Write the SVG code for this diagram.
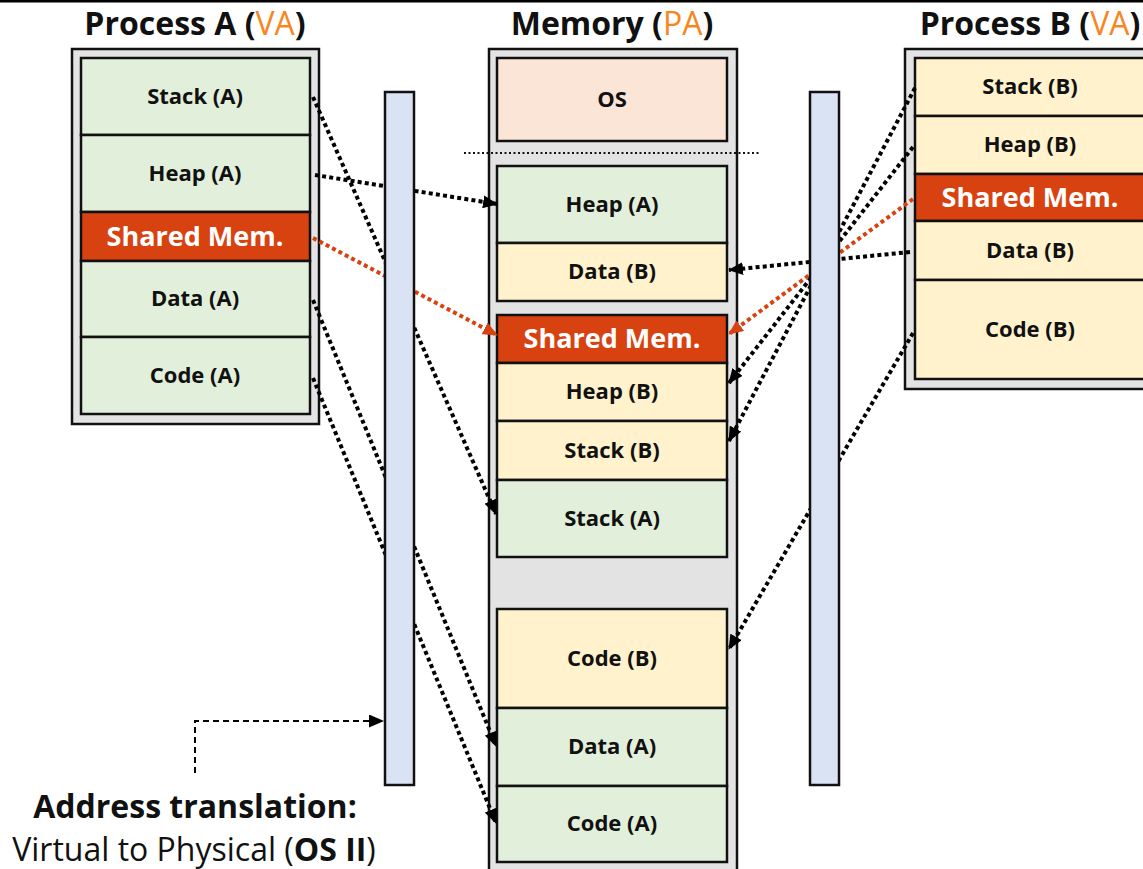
<svg xmlns="http://www.w3.org/2000/svg" width="1143" height="869" viewBox="0 0 1143 869">
  <style>
    .frame { fill: #E3E3E3; stroke: #111; stroke-width: 2.5; }
    .seg { stroke: #111; stroke-width: 2.5; }
    .green { fill: #E2EFDA; }
    .yellow { fill: #FFF2CC; }
    .peach { fill: #FBE5D6; }
    .shared { fill: #D84210; }
    .bar { fill: #DAE3F3; stroke: #111; stroke-width: 2.5; }
    .lbl { font-family: "Open Sans", "Liberation Sans", sans-serif; font-weight: bold; font-size: 22px; fill: #111; text-anchor: middle; }
    .slbl { font-family: "Open Sans", "Liberation Sans", sans-serif; font-weight: bold; font-size: 27px; fill: #fff; text-anchor: middle; }
    .title { font-family: "Open Sans", "Liberation Sans", sans-serif; font-weight: bold; font-size: 32px; fill: #111; text-anchor: middle; }
    .va { fill: #F7861F; font-weight: normal; }
    .dot { fill: none; stroke: #000; stroke-width: 4; stroke-dasharray: 4 3.2; }
    .dot.or { stroke: #D84210; }
    .note { font-family: "Open Sans", "Liberation Sans", sans-serif; font-size: 32px; fill: #111; text-anchor: middle; }
  </style>
  <defs>
    <marker id="ah" markerUnits="userSpaceOnUse" markerWidth="15" markerHeight="13" refX="14" refY="6.5" orient="auto">
      <path d="M0,0 L15,6.5 L0,13 z" fill="#000"/>
    </marker>
    <marker id="ahOr" markerUnits="userSpaceOnUse" markerWidth="15" markerHeight="13" refX="14" refY="6.5" orient="auto">
      <path d="M0,0 L15,6.5 L0,13 z" fill="#D84210"/>
    </marker>
  </defs>

  <rect width="1143" height="869" fill="#fff"/>
  <line x1="0" y1="1" x2="1143" y2="1" stroke="#000" stroke-width="3"/>

  <!-- Titles -->
  <text class="title" x="195" y="35">Process A (<tspan class="va">VA</tspan>)</text>
  <text class="title" x="612" y="35">Memory (<tspan class="va">PA</tspan>)</text>
  <text class="title" x="1030" y="35">Process B (<tspan class="va">VA</tspan>)</text>

  <!-- Process A virtual address space -->
  <g id="process-a">
    <rect class="frame" x="72" y="49" width="247" height="375"/>
    <rect class="seg green" x="81" y="58" width="229" height="77"/>
    <rect class="seg green" x="81" y="135" width="229" height="77"/>
    <rect class="seg shared" x="81" y="212" width="229" height="49"/>
    <rect class="seg green" x="81" y="261" width="229" height="76"/>
    <rect class="seg green" x="81" y="337" width="229" height="77"/>
    <text class="lbl" x="195" y="104">Stack (A)</text>
    <text class="lbl" x="195" y="181">Heap (A)</text>
    <text class="slbl" x="195" y="246">Shared Mem.</text>
    <text class="lbl" x="195" y="306">Data (A)</text>
    <text class="lbl" x="195" y="383">Code (A)</text>
  </g>

  <!-- Physical memory -->
  <g id="memory">
    <rect class="frame" x="489" y="49" width="248" height="840"/>
    <rect class="seg peach" x="497" y="58" width="230" height="83"/>
    <text class="lbl" x="612" y="107">OS</text>
    <line x1="464" y1="153" x2="760" y2="153" stroke="#111" stroke-width="1.8" stroke-dasharray="2 2.5"/>
    <rect class="seg green" x="497" y="166" width="230" height="77"/>
    <rect class="seg yellow" x="497" y="243" width="230" height="58"/>
    <rect class="seg shared" x="497" y="315" width="230" height="48"/>
    <rect class="seg yellow" x="497" y="363" width="230" height="58"/>
    <rect class="seg yellow" x="497" y="421" width="230" height="59"/>
    <rect class="seg green" x="497" y="480" width="230" height="77"/>
    <rect class="seg yellow" x="497" y="609" width="230" height="99"/>
    <rect class="seg green" x="497" y="708" width="230" height="78"/>
    <rect class="seg green" x="497" y="786" width="230" height="76"/>
    <text class="lbl" x="612" y="212">Heap (A)</text>
    <text class="lbl" x="612" y="279">Data (B)</text>
    <text class="slbl" x="612" y="348">Shared Mem.</text>
    <text class="lbl" x="612" y="399">Heap (B)</text>
    <text class="lbl" x="612" y="458">Stack (B)</text>
    <text class="lbl" x="612" y="526">Stack (A)</text>
    <text class="lbl" x="612" y="666">Code (B)</text>
    <text class="lbl" x="612" y="754">Data (A)</text>
    <text class="lbl" x="612" y="831">Code (A)</text>
  </g>

  <!-- Process B virtual address space -->
  <g id="process-b">
    <rect class="frame" x="905" y="49" width="250" height="340"/>
    <rect class="seg yellow" x="915" y="58" width="231" height="58"/>
    <rect class="seg yellow" x="915" y="116" width="231" height="58"/>
    <rect class="seg shared" x="915" y="174" width="231" height="47"/>
    <rect class="seg yellow" x="915" y="221" width="231" height="59"/>
    <rect class="seg yellow" x="915" y="280" width="231" height="99"/>
    <text class="lbl" x="1030" y="94">Stack (B)</text>
    <text class="lbl" x="1030" y="152">Heap (B)</text>
    <text class="slbl" x="1030" y="207">Shared Mem.</text>
    <text class="lbl" x="1030" y="258">Data (B)</text>
    <text class="lbl" x="1030" y="337">Code (B)</text>
  </g>

  <!-- Mappings from virtual segments to physical memory -->
  <g id="connectors">
    <line class="dot" x1="313" y1="97" x2="496" y2="514" marker-end="url(#ah)"/>
    <line class="dot" x1="315" y1="175" x2="497" y2="204" marker-end="url(#ah)"/>
    <line class="dot or" x1="313" y1="238" x2="497" y2="335" marker-end="url(#ahOr)"/>
    <line class="dot" x1="313" y1="300" x2="496" y2="746" marker-end="url(#ah)"/>
    <line class="dot" x1="313" y1="378" x2="496" y2="823" marker-end="url(#ah)"/>

    <line class="dot" x1="915" y1="88" x2="729" y2="441" marker-end="url(#ah)"/>
    <line class="dot" x1="913" y1="147" x2="729" y2="383" marker-end="url(#ah)"/>
    <line class="dot or" x1="913" y1="199" x2="729" y2="334" marker-end="url(#ahOr)"/>
    <line class="dot" x1="910" y1="252" x2="729" y2="270" marker-end="url(#ah)"/>
    <line class="dot" x1="913" y1="333" x2="729" y2="649" marker-end="url(#ah)"/>

    <polyline points="195,773 195,721 383,721" fill="none" stroke="#000" stroke-width="2" stroke-dasharray="6 4" marker-end="url(#ah)"/>
  </g>

  <!-- Translation tables -->
  <g id="translation-a">
    <rect class="bar" x="385" y="92" width="29" height="693"/>
  </g>
  <g id="translation-b">
    <rect class="bar" x="810" y="92" width="29" height="693"/>
  </g>

  <g id="caption">
    <text class="note" x="195" y="818" font-weight="bold" font-size="31.5">Address translation:</text>
    <text class="note" x="194" y="861" font-size="33.5">Virtual to Physical (<tspan font-weight="bold">OS II</tspan>)</text>
  </g>
</svg>
